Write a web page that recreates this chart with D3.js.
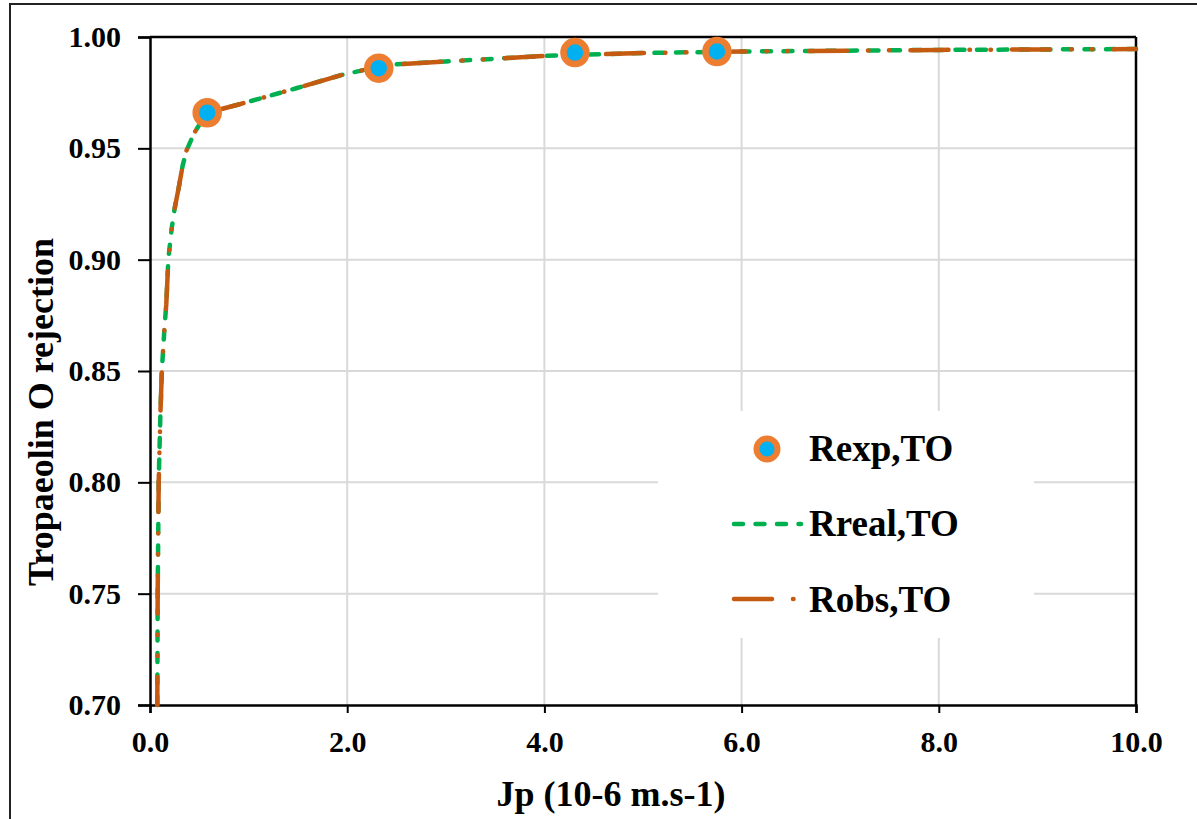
<!DOCTYPE html>
<html>
<head>
<meta charset="utf-8">
<script src="https://cdn.jsdelivr.net/npm/d3@7"></script>
<style>
  html, body { margin: 0; padding: 0; background: #fff; }
  svg { display: block; }
  text { font-family: "Liberation Serif", "Times New Roman", serif; font-weight: bold; fill: #000; }
</style>
</head>
<body>
<svg id="chart" width="1197" height="819"></svg>
<script>
// ---- data ----
const xTicks = [0, 2, 4, 6, 8, 10];
const yTicks = [0.70, 0.75, 0.80, 0.85, 0.90, 0.95, 1.00];

const rexpJ = [0.58, 2.32, 4.31, 5.75];
const rexpR = [0.966, 0.986, 0.993, 0.9935];

const realJ = [0.074, 0.078, 0.088, 0.105, 0.12, 0.145, 0.165, 0.186, 0.20, 0.22, 0.25, 0.29, 0.33, 0.37, 0.41, 0.45, 0.52, 0.58, 0.90, 1.15, 1.50, 1.93, 2.40, 3.0, 4.0, 5.0, 6.0, 8.0, 10.0];
const realR = [0.700, 0.750, 0.800, 0.830, 0.850, 0.868, 0.880, 0.900, 0.906, 0.914, 0.923, 0.932, 0.942, 0.949, 0.953, 0.957, 0.962, 0.966, 0.9697, 0.9728, 0.9772, 0.9828, 0.9875, 0.9890, 0.9915, 0.9928, 0.9935, 0.9942, 0.9946];

const obsJ = [0.074, 0.078, 0.088, 0.105, 0.12, 0.145, 0.165, 0.186, 0.20, 0.22, 0.25, 0.29, 0.33, 0.37, 0.41, 0.45, 0.52, 0.58, 0.90, 1.15, 1.50, 1.93, 2.40, 3.0, 4.0, 5.0, 6.0, 8.0, 10.0];
const obsR = [0.700, 0.750, 0.800, 0.830, 0.850, 0.868, 0.880, 0.900, 0.906, 0.914, 0.923, 0.932, 0.942, 0.949, 0.953, 0.957, 0.962, 0.966, 0.9697, 0.9728, 0.9772, 0.9828, 0.9875, 0.9890, 0.9915, 0.9928, 0.9935, 0.9942, 0.9946];

const seriesNames = ["Rexp,TO", "Rreal,TO", "Robs,TO"];
const xTitle = "Jp (10-6 m.s-1)";
const yTitle = "Tropaeolin O rejection";

// ---- layout ----
const svg = d3.select("#chart");
const L = 150, R = 1136, T = 37, B = 705;
const x = d3.scaleLinear().domain([0, 10]).range([L, R]);
const y = d3.scaleLinear().domain([0.70, 1.00]).range([B, T]);

const GREEN = "#00b050", BROWN = "#c55a11", ORANGE = "#ed7d31", BLUE = "#00b0f0";

// outer chart frame
svg.append("rect").attr("x", 10).attr("y", 4).attr("width", 1300).attr("height", 1000)
  .attr("fill", "none").attr("stroke", "#222").attr("stroke-width", 2);

// gridlines
const grid = svg.append("g");
grid.selectAll("line.v").data(xTicks.slice(1, -1)).join("line")
  .attr("x1", d => x(d)).attr("x2", d => x(d)).attr("y1", T).attr("y2", B)
  .attr("stroke", "#d9d9d9").attr("stroke-width", 2);
grid.selectAll("line.h").data(yTicks.slice(1, -1)).join("line")
  .attr("x1", L).attr("x2", R).attr("y1", d => y(d)).attr("y2", d => y(d))
  .attr("stroke", "#d9d9d9").attr("stroke-width", 2);

// legend background
svg.append("rect").attr("x", 658).attr("y", 411).attr("width", 376).attr("height", 227).attr("fill", "#fff");

// axes
const xAxis = svg.append("g").attr("transform", `translate(0,${B})`)
  .call(d3.axisBottom(x).tickValues(xTicks).tickFormat(d3.format(".1f")).tickSize(8).tickPadding(18));
const yAxis = svg.append("g").attr("transform", `translate(${L},0)`)
  .call(d3.axisLeft(y).tickValues(yTicks).tickFormat(d3.format(".2f")).tickSize(12).tickPadding(17));
[xAxis, yAxis].forEach(g => {
  g.select(".domain").attr("stroke", "#000").attr("stroke-width", 2.5);
  g.selectAll(".tick line").attr("stroke", "#000").attr("stroke-width", 2);
  g.selectAll(".tick text").style("font-family", '"Liberation Serif", serif')
    .style("font-weight", "bold").style("font-size", "30px").attr("fill", "#000");
});
xAxis.selectAll(".tick text").attr("dy", "0.71em");
// top and right frame
svg.append("line").attr("x1", L).attr("x2", R).attr("y1", T).attr("y2", T).attr("stroke", "#000").attr("stroke-width", 2.5);
svg.append("line").attr("x1", R).attr("x2", R).attr("y1", T).attr("y2", B).attr("stroke", "#000").attr("stroke-width", 2.5);

// lines
const line = d3.line().x(d => x(d[0])).y(d => y(d[1])).curve(d3.curveLinear);
const realData = realJ.map((j, i) => [j, realR[i]]);
const obsData = obsJ.map((j, i) => [j, obsR[i]]);

const GREEN_DASH = "9,12.5";
const BROWN_DASH = "38,21,0.5,20.5,0.5,21";

svg.append("path").datum(realData).attr("d", line).attr("fill", "none")
  .attr("stroke", GREEN).attr("stroke-width", 4.5).attr("stroke-linecap", "round")
  .attr("stroke-linejoin", "round").attr("stroke-dasharray", GREEN_DASH);
svg.append("path").datum(obsData).attr("d", line).attr("fill", "none")
  .attr("stroke", BROWN).attr("stroke-width", 4.5).attr("stroke-linecap", "round")
  .attr("stroke-linejoin", "round").attr("stroke-dasharray", BROWN_DASH).attr("stroke-dashoffset", 10);

// markers
svg.selectAll("circle.rexp").data(rexpJ.map((j, i) => [j, rexpR[i]])).join("circle")
  .attr("cx", d => x(d[0])).attr("cy", d => y(d[1])).attr("r", 11.5)
  .attr("fill", BLUE).attr("stroke", ORANGE).attr("stroke-width", 6.5);

// legend
const lg = svg.append("g");
lg.append("circle").attr("cx", 767).attr("cy", 449).attr("r", 10.5)
  .attr("fill", BLUE).attr("stroke", ORANGE).attr("stroke-width", 6);
lg.append("line").attr("x1", 734).attr("x2", 801).attr("y1", 524).attr("y2", 524)
  .attr("stroke", GREEN).attr("stroke-width", 4.5).attr("stroke-linecap", "round")
  .attr("stroke-dasharray", GREEN_DASH);
lg.append("line").attr("x1", 734).attr("x2", 801).attr("y1", 599).attr("y2", 599)
  .attr("stroke", BROWN).attr("stroke-width", 4.5).attr("stroke-linecap", "round")
  .attr("stroke-dasharray", BROWN_DASH);
const lgY = [461, 536, 612];
lg.selectAll("text").data(seriesNames).join("text")
  .attr("x", 809).attr("y", (d, i) => lgY[i])
  .style("font-size", "37px").text(d => d);

// axis titles
svg.append("text").attr("x", 611).attr("y", 806).attr("text-anchor", "middle")
  .style("font-size", "36px").text(xTitle);
svg.append("text").attr("transform", "translate(53,412) rotate(-90)").attr("text-anchor", "middle")
  .style("font-size", "36px").text(yTitle);
</script>
</body>
</html>
